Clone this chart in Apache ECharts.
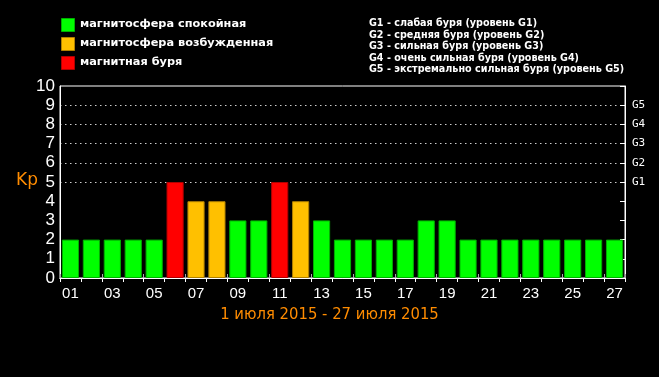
<!DOCTYPE html>
<html>
<head>
<meta charset="utf-8">
<script src="https://cdn.jsdelivr.net/npm/echarts@6/dist/echarts.min.js"></script>
<style>
  html, body { margin: 0; padding: 0; background: #000; }
  #chart { width: 659px; height: 377px; }
</style>
</head>
<body>
<div id="chart"></div>
<script>
// дни июля 2015
const days = ['01','02','03','04','05','06','07','08','09','10','11','12','13','14',
  '15','16','17','18','19','20','21','22','23','24','25','26','27'];
// индекс Kp
const kpValues = [2, 2, 2, 2, 2, 5, 4, 4, 3, 3, 5, 4, 3, 2, 2, 2, 2, 3, 3, 2, 2, 2, 2, 2, 2, 2, 2];
const stormLabels = ['G1', 'G2', 'G3', 'G4', 'G5'];
const legendItems = ['магнитосфера спокойная', 'магнитосфера возбужденная', 'магнитная буря'];
const stormNotes = [
  'G1 - слабая буря (уровень G1)',
  'G2 - средняя буря (уровень G2)',
  'G3 - сильная буря (уровень G3)',
  'G4 - очень сильная буря (уровень G4)',
  'G5 - экстремально сильная буря (уровень G5)'
];

const colors = ['#00ff00', '#ffc000', '#ff0000'];
const borders = ['#00b000', '#b08000', '#b00000'];
const level = v => (v >= 5 ? 2 : v >= 4 ? 1 : 0);

const chart = echarts.init(document.getElementById('chart'));

// легенда слева
const legendGraphics = [];
legendItems.forEach((t, i) => {
  legendGraphics.push({
    type: 'rect', left: 61, top: 18 + i * 19,
    shape: { width: 13, height: 13 },
    style: { fill: colors[i], stroke: borders[i], lineWidth: 1 }
  });
  legendGraphics.push({
    type: 'text', left: 80, top: 19 + i * 19,
    style: { text: t, fill: '#fff', font: 'bold 11.3px "DejaVu Sans"' }
  });
});

const option = {
  backgroundColor: '#000',
  animation: false,
  grid: {
    left: 60, right: 34, top: 86, bottom: 99,
    show: true, borderColor: '#fff', borderWidth: 1
  },
  graphic: [
    ...legendGraphics,
    {
      type: 'text', left: 369, top: 18,
      style: { text: stormNotes.join('\n'), fill: '#fff', font: 'bold 9.6px "DejaVu Sans"', lineHeight: 11.5 }
    },
    {
      type: 'text', left: 16, top: 172,
      style: { text: 'Kp', fill: '#ff8c00', font: '17px "DejaVu Sans"' }
    },
    {
      type: 'text', left: 'center', top: 306,
      style: { text: '1 июля 2015 - 27 июля 2015', fill: '#ff8c00', font: '16.5px "DejaVu Sans Condensed", "DejaVu Sans"' }
    }
  ],
  xAxis: [
    {
      type: 'category', data: days, position: 'bottom',
      axisLine: { lineStyle: { color: '#fff', width: 1 } },
      axisTick: { show: true, inside: true, length: 4, lineStyle: { color: '#aaa' } },
      axisLabel: { color: '#fff', fontSize: 15, fontFamily: 'Liberation Sans', interval: 1, margin: 8 }
    },
    {
      type: 'category', data: days, position: 'top',
      axisLine: { lineStyle: { color: '#fff' } },
      axisTick: { show: true, inside: true, length: 4, lineStyle: { color: '#fff' } },
      axisLabel: { show: false }
    }
  ],
  yAxis: [
    {
      type: 'value', min: 0, max: 10, interval: 1,
      axisLine: { show: true, lineStyle: { color: '#fff' } },
      axisTick: { show: false },
      axisLabel: { color: '#fff', fontSize: 17, fontFamily: 'Liberation Sans', margin: 5 },
      splitLine: {
        show: true,
        lineStyle: {
          type: [1.5, 3.5], width: 1,
          color: ['transparent', 'transparent', 'transparent', 'transparent', 'transparent',
            '#ccc', '#ccc', '#ccc', '#ccc', '#ccc', 'transparent']
        }
      }
    },
    {
      type: 'value', min: 0, max: 10, interval: 1, position: 'right',
      axisLine: { show: true, lineStyle: { color: '#fff' } },
      axisTick: { show: true, inside: true, length: 5, lineStyle: { color: '#fff' } },
      axisLabel: {
        color: '#fff', fontSize: 11, fontFamily: 'DejaVu Sans Mono', margin: 7,
        formatter: v => (v >= 5 && v <= 9 ? stormLabels[v - 5] : '')
      },
      splitLine: { show: false }
    }
  ],
  series: [
    {
      type: 'bar',
      data: kpValues.map(v => ({
        value: v,
        itemStyle: { color: colors[level(v)], borderColor: borders[level(v)], borderWidth: 1 }
      })),
      barCategoryGap: '18%'
    }
  ]
};

chart.setOption(option);
</script>
</body>
</html>
